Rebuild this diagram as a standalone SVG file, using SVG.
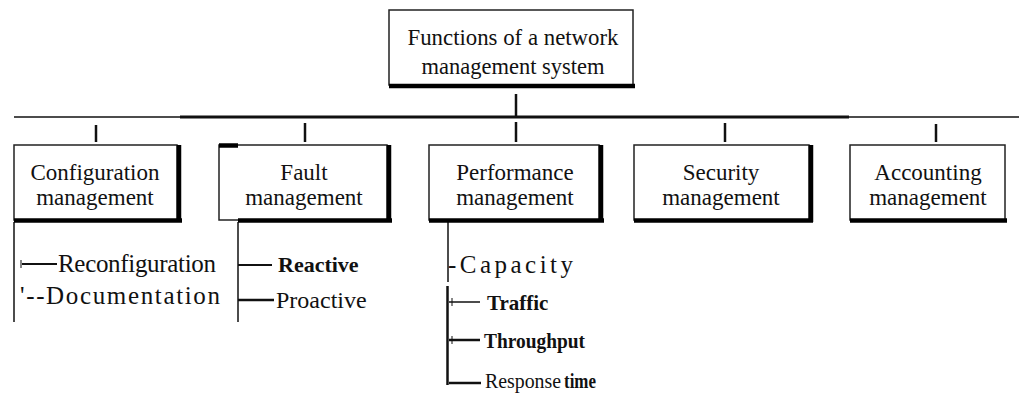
<svg xmlns="http://www.w3.org/2000/svg" width="1019" height="393" viewBox="0 0 1019 393">
<style>
.t{font-family:"Liberation Serif","Times New Roman",serif;font-size:23px;fill:#111}
.c{text-anchor:middle}
.b{font-weight:bold}
.box{fill:#fff;stroke:#222;stroke-width:1.5}
.sh{stroke:#000;stroke-width:4.5;fill:none}
.ln{stroke:#111;fill:none}
</style>
<rect width="1019" height="393" fill="#fff"/>
<g id="root">
<rect class="box" x="389" y="10" width="244" height="75"/>
<line class="sh" x1="389" y1="86" x2="635" y2="86"/>
<text class="t c" x="513" y="45" style="font-size:24px" textLength="211" lengthAdjust="spacingAndGlyphs">Functions of a network</text>
<text class="t c" x="513" y="74" style="font-size:24px" textLength="183" lengthAdjust="spacingAndGlyphs">management system</text>
</g>
<g id="connectors">
<line class="ln" x1="516" y1="94" x2="516" y2="117" stroke-width="2.5"/>
<line class="ln" x1="14" y1="117" x2="1019" y2="117" stroke-width="1.5" stroke="#333"/>
<line class="ln" x1="180" y1="117" x2="849" y2="117" stroke-width="3"/>
<line class="ln" x1="96" y1="125" x2="96" y2="142" stroke-width="2.5"/>
<line class="ln" x1="305" y1="123" x2="305" y2="142" stroke-width="2.5"/>
<line class="ln" x1="516" y1="122" x2="516" y2="142" stroke-width="2.5"/>
<line class="ln" x1="725" y1="123" x2="725" y2="142" stroke-width="2.5"/>
<line class="ln" x1="936" y1="124" x2="936" y2="142" stroke-width="2.5"/>
<!-- config subtree -->
<line class="ln" x1="14" y1="222" x2="14" y2="322" stroke-width="1.5"/>
<line class="ln" x1="22" y1="264" x2="57" y2="264" stroke-width="2"/>
<line class="ln" x1="21" y1="260" x2="21" y2="268" stroke-width="1"/>
<!-- fault subtree -->
<line class="ln" x1="238" y1="222" x2="238" y2="322" stroke-width="1.5"/>
<line class="ln" x1="238" y1="265" x2="272" y2="265" stroke-width="2"/>
<line class="ln" x1="238" y1="300" x2="274" y2="300" stroke-width="2.5"/>
<!-- performance subtree -->
<line class="ln" x1="448" y1="222" x2="448" y2="282" stroke-width="1.5"/>
<line class="ln" x1="447.5" y1="286" x2="447.5" y2="385" stroke-width="2.5"/>
<line class="ln" x1="449" y1="302" x2="480" y2="302" stroke-width="1.5"/>
<line class="ln" x1="452" y1="298" x2="452" y2="306" stroke-width="1"/>
<line class="ln" x1="449" y1="340" x2="480" y2="340" stroke-width="2.5"/>
<line class="ln" x1="452" y1="336" x2="452" y2="344" stroke-width="1"/>
<line class="ln" x1="449" y1="383" x2="481" y2="383" stroke-width="2.5"/>
</g>
<g id="config">
<rect class="box" x="14" y="145" width="163" height="75"/>
<line class="sh" x1="179" y1="145" x2="179" y2="222"/>
<line class="sh" x1="14" y1="220.5" x2="182" y2="220.5"/>
<text class="t c" x="95" y="180">Configuration</text>
<text class="t c" x="95" y="205">management</text>
</g>
<g id="fault">
<rect class="box" x="219" y="145" width="168" height="75"/>
<line class="sh" x1="219" y1="145.5" x2="238" y2="145.5" stroke-width="3"/>
<line class="sh" x1="389" y1="145" x2="389" y2="222"/>
<line class="sh" x1="238" y1="220.5" x2="392" y2="220.5"/>
<text class="t c" x="304" y="180">Fault</text>
<text class="t c" x="304" y="205">management</text>
</g>
<g id="performance">
<rect class="box" x="429" y="145" width="170" height="75"/>
<line class="sh" x1="601" y1="145" x2="601" y2="222"/>
<line class="sh" x1="429" y1="220.5" x2="604" y2="220.5"/>
<text class="t c" x="515" y="180">Performance</text>
<text class="t c" x="515" y="205">management</text>
</g>
<g id="security">
<rect class="box" x="634" y="145" width="175" height="75"/>
<line class="sh" x1="811" y1="145" x2="811" y2="222"/>
<line class="sh" x1="634" y1="220.5" x2="813" y2="220.5"/>
<text class="t c" x="721" y="180">Security</text>
<text class="t c" x="721" y="205">management</text>
</g>
<g id="accounting">
<rect class="box" x="850" y="145" width="155" height="75"/>
<line class="sh" x1="850" y1="220.5" x2="1007" y2="220.5"/>
<text class="t c" x="928" y="180">Accounting</text>
<text class="t c" x="928" y="205">management</text>
</g>
<g id="config-items">
<text class="t" x="58" y="272" style="font-size:25px" textLength="158">Reconfiguration</text>
<text class="t" x="20" y="304" style="font-size:25px" textLength="200">'--Documentation</text>
</g>
<g id="fault-items">
<text class="t b" x="278" y="272" style="font-size:22px">Reactive</text>
<text class="t" x="276" y="308" style="font-size:24px">Proactive</text>
</g>
<g id="performance-items">
<text class="t" x="448" y="273" style="font-size:25px" textLength="125">-Capacity</text>
<text class="t b" x="487" y="310" style="font-size:21px">Traffic</text>
<text class="t b" x="484" y="348" style="font-size:21.5px" textLength="101" lengthAdjust="spacingAndGlyphs">Throughput</text>
<text class="t" x="485" y="388" style="font-size:21px" textLength="76" lengthAdjust="spacingAndGlyphs">Response</text>
<text class="t b" x="564" y="388" style="font-size:21px" textLength="32" lengthAdjust="spacingAndGlyphs">time</text>
</g>
</svg>
